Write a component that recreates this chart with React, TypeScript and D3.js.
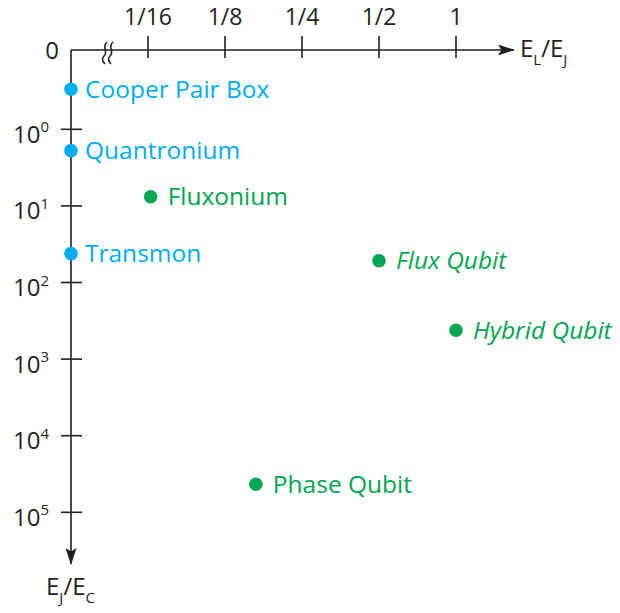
import React from "react";
import * as d3 from "d3";

const xTickLabels = ["1/16", "1/8", "1/4", "1/2", "1"];
const xTickValues = [1 / 16, 1 / 8, 1 / 4, 1 / 2, 1];
const yTickExponents = [0, 1, 2, 3, 4, 5];

const qubitNames = ["Cooper Pair Box", "Quantronium", "Transmon", "Fluxonium", "Flux Qubit", "Hybrid Qubit", "Phase Qubit"];
const elOverEj = [0, 0, 0, 0.064, 0.5, 1, 0.165];
const ejOverEc = [0.3, 1.9, 42, 7.6, 52, 420, 43000];
const qubitGroup = ["charge", "charge", "charge", "inductive", "inductive", "inductive", "inductive"];
const qubitItalic = [false, false, false, false, true, true, false];

const W = 620;
const H = 613;
const FONT = "'Open Sans', sans-serif";
const INK = "#231f20";
const BLUE = "#00aeef";
const GREEN = "#00a651";

export default function App() {
  const x0 = 71;
  const y0 = 50;
  const x = d3.scaleLog().base(2).domain([1 / 16, 1]).range([148, 456]);
  const y = d3.scaleLog().domain([1, 1e5]).range([129.3, 512.3]);
  const px = (v: number) => (v === 0 ? x0 : x(v));
  const py = (v: number) => (v === 0 ? y0 : y(v));

  const wave = (cx: number) => {
    const p = d3.path();
    p.moveTo(cx + 2, 42);
    p.bezierCurveTo(cx - 4, 47, cx + 4, 52, cx - 1, 56);
    p.bezierCurveTo(cx - 4, 59, cx - 2, 62, cx, 64);
    return p.toString();
  };

  return (
    <svg width={W} height={H} style={{ position: "absolute", left: 0, top: 0, background: "#fff" }} fontFamily={FONT}>
      <defs>
        <marker id="arr" viewBox="0 0 17 11" refX="16" refY="5.5" markerWidth="17" markerHeight="11" markerUnits="userSpaceOnUse" orient="auto">
          <path d="M0,0 L17,5.5 L0,11 L3.5,5.5 Z" fill={INK} />
        </marker>
      </defs>
      {/* x axis */}
      <line x1={x0} y1={y0} x2={514} y2={y0} stroke={INK} strokeWidth={1.6} markerEnd="url(#arr)" />
      {/* y axis */}
      <line x1={x0} y1={y0} x2={x0} y2={564} stroke={INK} strokeWidth={1.6} markerEnd="url(#arr)" />
      {/* break mark */}
      <path d={wave(105)} fill="none" stroke={INK} strokeWidth={1.6} />
      <path d={wave(111)} fill="none" stroke={INK} strokeWidth={1.6} />
      {/* x ticks */}
      {xTickValues.map((v, i) => (
        <g key={"xt" + i}>
          <line x1={x(v)} x2={x(v)} y1={36} y2={58} stroke={INK} strokeWidth={1.6} />
          <text x={x(v)} y={25} textAnchor="middle" fontSize={23} fill={INK}>{xTickLabels[i]}</text>
        </g>
      ))}
      <text x={59} y={59} textAnchor="end" fontSize={24} fill={INK}>0</text>
      {/* y ticks */}
      {yTickExponents.map((e) => (
        <g key={"yt" + e}>
          <line x1={61} x2={82} y1={y(Math.pow(10, e))} y2={y(Math.pow(10, e))} stroke={INK} strokeWidth={1.6} />
          <text x={13} y={y(Math.pow(10, e)) + 13.5} fontSize={24} fill={INK}>
            10<tspan fontSize={15} dy={-10.5}>{e}</tspan>
          </text>
        </g>
      ))}
      {/* axis labels */}
      <text x={520} y={57} fontSize={24} fill={INK}>
        E<tspan fontSize={15} dy={8}>L</tspan><tspan dy={-8}>/E</tspan><tspan fontSize={15} dy={8}>J</tspan>
      </text>
      <text x={46} y={595} fontSize={24} fill={INK}>
        E<tspan fontSize={15} dy={8}>J</tspan><tspan dy={-8}>/E</tspan><tspan fontSize={15} dy={8}>C</tspan>
      </text>
      {/* points */}
      {qubitNames.map((name, i) => {
        const cx = px(elOverEj[i]);
        const cy = py(ejOverEc[i]);
        const col = qubitGroup[i] === "charge" ? BLUE : GREEN;
        const dx = qubitGroup[i] === "charge" ? 14 : 17;
        return (
          <g key={name}>
            <circle cx={cx} cy={cy} r={6.8} fill={col} />
            <text x={cx + dx} y={cy + 8.5} fontSize={24.5} fill={col} fontStyle={qubitItalic[i] ? "italic" : "normal"}>{name}</text>
          </g>
        );
      })}
    </svg>
  );
}
